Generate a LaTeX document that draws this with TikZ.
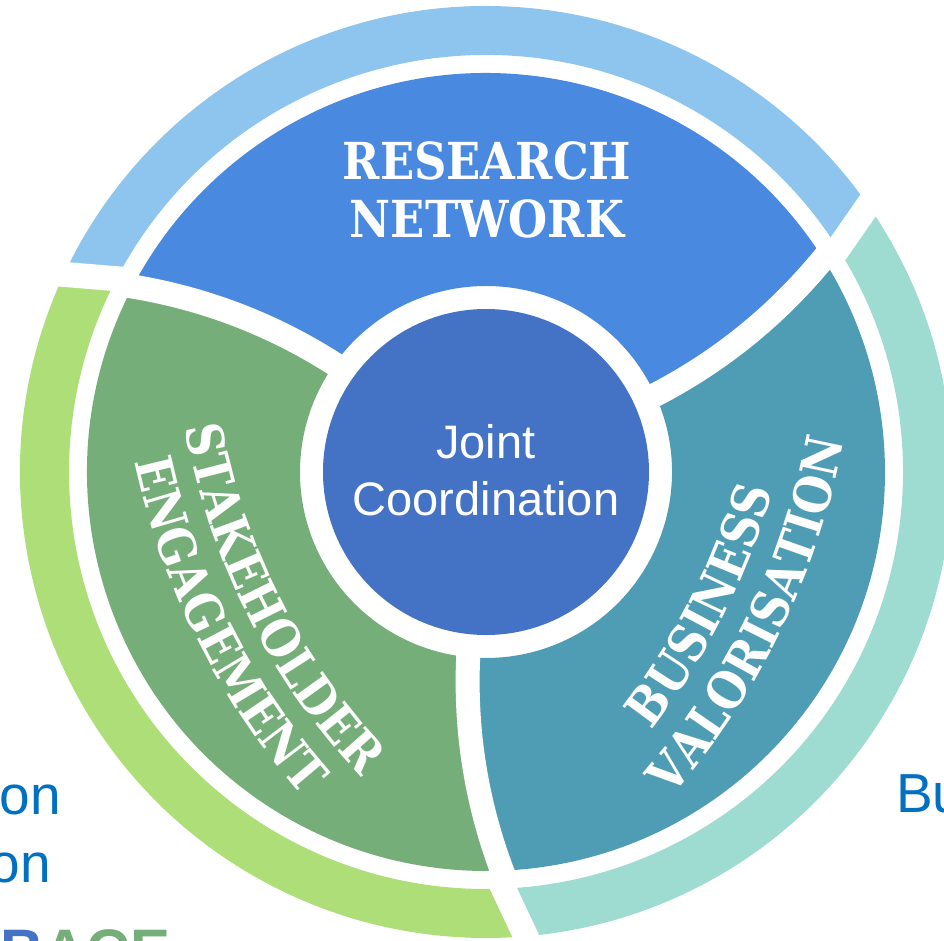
\documentclass[tikz,border=0pt]{standalone}
\usepackage{fontspec}
\setmainfont{Liberation Sans}
\newfontfamily\segfam[FakeStretch=0.88]{DejaVu Serif}
\usetikzlibrary{decorations.text,calc}
\definecolor{centerblue}{HTML}{4472C4}
\definecolor{research}{HTML}{4A89E0}
\definecolor{business}{HTML}{4F9DB4}
\definecolor{stake}{HTML}{75AE78}
\definecolor{lightblue}{HTML}{8EC5EE}
\definecolor{lightteal}{HTML}{9EDCD2}
\definecolor{lightgreen}{HTML}{ADDE77}
\definecolor{textblue}{HTML}{0070C0}
\newcommand\segfont{\segfam\bfseries\fontsize{51}{58}\selectfont}
\tikzset{
  segtext/.style={text=white, font=\segfont, inner sep=0},
  sidetext/.style={text=textblue, font=\fontsize{55}{66}\selectfont, inner sep=0},
  gapline/.style={white, line width=24},
  arctext/.style={decorate, decoration={text along path, text align=center, text color=white,
      text={|\segfont|#1}}}
}
\begin{document}
\begin{tikzpicture}[x=1pt,y=1pt]
\useasboundingbox (-486,-468) rectangle (458,472);
% outer ring
\fill[lightblue] (33.6:466) arc[start angle=33.6,end angle=153.6,radius=466] -- (153.6:417) arc[start angle=153.6,end angle=33.6,radius=417] -- cycle;
\fill[lightgreen] (153.6:466) arc[start angle=153.6,end angle=273.6,radius=466] -- (273.6:417) arc[start angle=273.6,end angle=153.6,radius=417] -- cycle;
\fill[lightteal] (273.6:466) arc[start angle=273.6,end angle=393.6,radius=466] -- (393.6:417) arc[start angle=393.6,end angle=273.6,radius=417] -- cycle;
\foreach \r in {0,120,240}{
  \begin{scope}[rotate=\r]
    \coordinate (ga) at (347.6,216.9);
    \coordinate (gb) at (386.6,273.1);
    \draw[gapline, line width=25] (ga) -- (gb);
  \end{scope}
}
% spoke geometry (k = 0 right, 1 left, 2 bottom)
\foreach \k in {0,1,2}{
  \coordinate (si\k) at (\k*120+24.5:186);
  \coordinate (sc\k) at (\k*120+25.6:296);
  \coordinate (so\k) at (\k*120+32.3:399);
  \coordinate (ca\k) at ($(si\k)!2/3!(sc\k)$);
  \coordinate (cb\k) at ($(so\k)!2/3!(sc\k)$);
}
% segments
\fill[research] (so0) arc[start angle=32.3,end angle=152.3,radius=399] .. controls (cb1) and (ca1) .. (si1) arc[start angle=144.5,end angle=24.5,radius=186] .. controls (ca0) and (cb0) .. cycle;
\fill[business] (so2) arc[start angle=272.3,end angle=392.3,radius=399] .. controls (cb0) and (ca0) .. (si0) arc[start angle=24.5,end angle=-95.5,radius=186] .. controls (ca2) and (cb2) .. cycle;
\fill[stake] (so1) arc[start angle=152.3,end angle=272.3,radius=399] .. controls (cb2) and (ca2) .. (si2) arc[start angle=264.5,end angle=144.5,radius=186] .. controls (ca1) and (cb1) .. cycle;
\foreach \k in {0,1,2}{
  \draw[gapline, line cap=rect] (si\k) .. controls (ca\k) and (cb\k) .. (so\k);
}
% centre
\node[circle, fill=centerblue, minimum size=326, inner sep=0] (centre) at (0,0) {};
\node[anchor=base, text=white, font=\fontsize{47}{57}\selectfont, inner sep=0] (joint) at (0,14) {Joint};
\node[anchor=base, text=white, font=\fontsize{47}{57}\selectfont, inner sep=0] (coord) at (0,-43) {Coordination};
% research text
\node[segtext, anchor=base] (rs1) at (1,292) {RESEARCH};
\node[segtext, anchor=base] (rs2) at (1,234) {NETWORK};
% curved texts
\coordinate (ql) at (378,167);
\coordinate (qr) at (-378,167);
\path[arctext=STAKEHOLDER] (ql) ++(184.2:690) arc[start angle=184.2,end angle=229.2,radius=690];
\path[arctext=ENGAGEMENT] (ql) ++(184.2:746) arc[start angle=184.2,end angle=229.2,radius=746];
\path[arctext=BUSINESS] (qr) ++(-49.3:690) arc[start angle=-49.3,end angle=-4.3,radius=690];
\path[arctext=VALORISATION] (qr) ++(-48.3:748) arc[start angle=-48.3,end angle=-3.3,radius=748];
% cut-off side texts
\node[sidetext, anchor=base east] (on1) at (-425,-342) {on};
\node[sidetext, anchor=base east] (on2) at (-435,-410) {on};
\node[sidetext, anchor=base west] (bu) at (410,-340) {Bu};
\node[anchor=base west, inner sep=0, font=\bfseries\fontsize{60}{70}\selectfont] (bace) at (-486,-499) {\textcolor{centerblue}{B}\textcolor{stake}{ACE}};
\end{tikzpicture}
\end{document}
